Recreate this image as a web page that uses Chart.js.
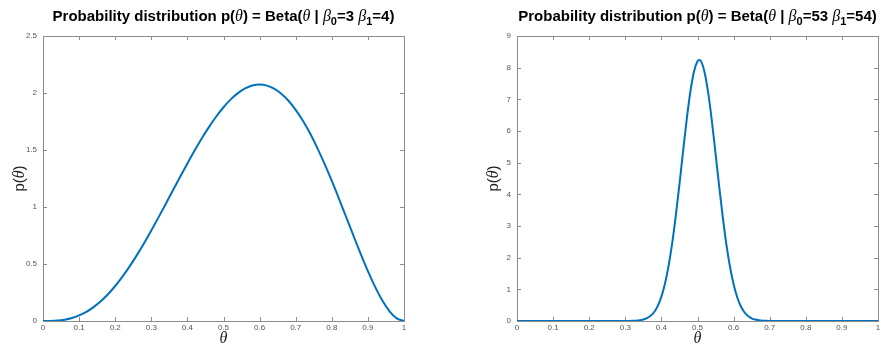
<!DOCTYPE html>
<html>
<head>
<meta charset="utf-8">
<script src="https://cdn.jsdelivr.net/npm/chart.js@4.4.1/dist/chart.umd.min.js"></script>
<style>
  html, body { margin: 0; padding: 0; background: #fff; }
  #wrap { position: relative; width: 883px; height: 345px; overflow: hidden; }
  .box { position: absolute; top: 0; height: 345px; }
</style>
</head>
<body>
<div id="wrap">
  <div class="box" style="left:0;width:440px"><canvas id="left-chart"></canvas></div>
  <div class="box" style="left:440px;width:443px"><canvas id="right-chart"></canvas></div>
</div>
<script>
// values
const thetaL = [0, 0.02, 0.04, 0.06, 0.08, 0.1, 0.12, 0.14, 0.16, 0.18, 0.2, 0.22, 0.24, 0.26, 0.28, 0.3,
  0.32, 0.34, 0.36, 0.38, 0.4, 0.42, 0.44, 0.46, 0.48, 0.5, 0.52, 0.54, 0.56, 0.58, 0.6, 0.62, 0.64,
  0.66, 0.68, 0.7, 0.72, 0.74, 0.76, 0.78, 0.8, 0.82, 0.84, 0.86, 0.88, 0.9, 0.92, 0.94, 0.96, 0.98, 1];
const pL = [0, 0.0005, 0.0035, 0.0115, 0.026, 0.049, 0.080, 0.122, 0.173, 0.235, 0.307, 0.389, 0.479,
  0.578, 0.683, 0.794, 0.909, 1.027, 1.147, 1.266, 1.382, 1.495, 1.603, 1.703, 1.794, 1.875, 1.944,
  1.999, 2.040, 2.065, 2.074, 2.065, 2.038, 1.994, 1.932, 1.852, 1.756, 1.644, 1.517, 1.378, 1.229,
  1.072, 0.910, 0.748, 0.589, 0.437, 0.299, 0.179, 0.085, 0.023, 0];

const thetaR = [0, 0.3, 0.31, 0.32, 0.33, 0.34, 0.35, 0.36, 0.37, 0.38, 0.39, 0.4, 0.41, 0.42, 0.43,
  0.44, 0.45, 0.46, 0.47, 0.48, 0.49, 0.5, 0.505, 0.51, 0.52, 0.53, 0.54, 0.55, 0.56, 0.57, 0.58, 0.59,
  0.6, 0.61, 0.62, 0.63, 0.64, 0.65, 0.66, 0.67, 0.68, 0.69, 0.7, 1];
const pR = [0, 0.001, 0.002, 0.005, 0.011, 0.023, 0.047, 0.089, 0.163, 0.285, 0.479, 0.770, 1.186,
  1.747, 2.467, 3.335, 4.317, 5.352, 6.354, 7.223, 7.865, 8.200, 8.240, 8.200, 7.834, 7.177, 6.296,
  5.289, 4.258, 3.281, 2.421, 1.712, 1.159, 0.751, 0.466, 0.277, 0.158, 0.086, 0.045, 0.023, 0.011,
  0.005, 0.002, 0];

const xTicks = [0, 0.1, 0.2, 0.3, 0.4, 0.5, 0.6, 0.7, 0.8, 0.9, 1];
const yTicksL = [0, 0.5, 1, 1.5, 2, 2.5];
const yTicksR = [0, 1, 2, 3, 4, 5, 6, 7, 8, 9];
const paramsL = ["3", "4"];
const paramsR = ["53", "54"];

Chart.defaults.font.family = "'Liberation Sans', Arial, sans-serif";
Chart.defaults.color = "#555";

const boldF = "bold 15px 'Liberation Sans', Arial, sans-serif";
const symF = "italic 16px 'Liberation Serif', 'Times New Roman', serif";
const subF = "bold 11px 'Liberation Sans', Arial, sans-serif";

// MATLAB style frame with inward ticks and hand-set axis labels
const framePlugin = {
  id: "frame",
  beforeDatasetsDraw(chart) {
    const { ctx, chartArea: a, scales: { x, y } } = chart;
    ctx.save();
    ctx.strokeStyle = "#8c8c8c";
    ctx.lineWidth = 1;
    ctx.strokeRect(Math.round(a.left) + 0.5, Math.round(a.top) + 0.5,
      Math.round(a.right - a.left), Math.round(a.bottom - a.top));
    ctx.beginPath();
    x.ticks.forEach(t => {
      const px = Math.round(x.getPixelForValue(t.value)) + 0.5;
      ctx.moveTo(px, a.bottom); ctx.lineTo(px, a.bottom - 4);
      ctx.moveTo(px, a.top); ctx.lineTo(px, a.top + 4);
    });
    y.ticks.forEach(t => {
      const py = Math.round(y.getPixelForValue(t.value)) + 0.5;
      ctx.moveTo(a.left, py); ctx.lineTo(a.left + 4, py);
      ctx.moveTo(a.right, py); ctx.lineTo(a.right - 4, py);
    });
    ctx.stroke();
    ctx.restore();
  },
  afterDraw(chart) {
    const { ctx, chartArea: a } = chart;
    const opts = chart.options.plugins.frame;
    ctx.save();
    ctx.fillStyle = "#222";
    ctx.textBaseline = "alphabetic";
    // x axis label
    ctx.font = "italic 16px 'Liberation Serif', 'Times New Roman', serif";
    ctx.textAlign = "center";
    ctx.fillText("θ", (a.left + a.right) / 2, 343);
    // y axis label
    ctx.textAlign = "left";
    ctx.save();
    ctx.translate(a.left - opts.yLabelGap, (a.top + a.bottom) / 2);
    ctx.rotate(-Math.PI / 2);
    const parts = [["p(", "15px 'Liberation Sans', Arial, sans-serif"],
      ["θ", "italic 16px 'Liberation Serif', serif"], [")", "15px 'Liberation Sans', Arial, sans-serif"]];
    let w = 0;
    parts.forEach(p => { ctx.font = p[1]; w += ctx.measureText(p[0]).width; });
    let cx = -w / 2;
    parts.forEach(p => { ctx.font = p[1]; ctx.fillText(p[0], cx, 0); cx += ctx.measureText(p[0]).width; });
    ctx.restore();
    // title
    const b = opts.params;
    const segs = [
      ["Probability distribution p(", boldF, 0], ["θ", symF, 0], [") = Beta(", boldF, 0],
      ["θ", symF, 0], [" | ", boldF, 0], ["β", symF, 0], ["0", subF, 4], ["=" + b[0] + " ", boldF, 0],
      ["β", symF, 0], ["1", subF, 4], ["=" + b[1] + ")", boldF, 0]
    ];
    let tw = 0;
    segs.forEach(s => { ctx.font = s[1]; tw += ctx.measureText(s[0]).width; });
    let tx = (a.left + a.right) / 2 - tw / 2;
    ctx.fillStyle = "#000";
    ctx.textAlign = "left";
    segs.forEach(s => {
      ctx.font = s[1];
      ctx.fillText(s[0], tx, 21 + s[2]);
      tx += ctx.measureText(s[0]).width;
    });
    ctx.restore();
  }
};

function makeChart(id, xs, ys, yTicks, yMax, params, yWidth, padRight, yLabelGap) {
  return new Chart(document.getElementById(id), {
    type: "line",
    data: {
      datasets: [{
        data: xs.map((t, i) => ({ x: t, y: ys[i] })),
        borderColor: "#0072BD",
        borderWidth: 2,
        pointRadius: 0,
        cubicInterpolationMode: "monotone",
        fill: false
      }]
    },
    options: {
      responsive: true,
      maintainAspectRatio: false,
      animation: false,
      layout: { padding: { top: 36, right: padRight, left: 0, bottom: 0 } },
      plugins: {
        legend: { display: false },
        tooltip: { enabled: false },
        frame: { params: params, yLabelGap: yLabelGap }
      },
      scales: {
        x: {
          type: "linear", min: 0, max: 1,
          afterBuildTicks: s => { s.ticks = xTicks.map(v => ({ value: v })); },
          afterFit: s => { s.height = 24; },
          grid: { display: false, drawTicks: false },
          border: { display: false },
          ticks: { font: { size: 8 }, padding: 2, maxRotation: 0, callback: v => String(v) }
        },
        y: {
          type: "linear", min: 0, max: yMax,
          afterBuildTicks: s => { s.ticks = yTicks.map(v => ({ value: v })); },
          afterFit: s => { s.width = yWidth; },
          grid: { display: false, drawTicks: false },
          border: { display: false },
          ticks: { font: { size: 8 }, padding: 6, callback: v => String(v) }
        }
      }
    },
    plugins: [framePlugin]
  });
}

makeChart("left-chart", thetaL, pL, yTicksL, 2.5, paramsL, 43, 36, 19);
makeChart("right-chart", thetaR, pR, yTicksR, 9, paramsR, 77, 5, 19);
</script>
</body>
</html>
